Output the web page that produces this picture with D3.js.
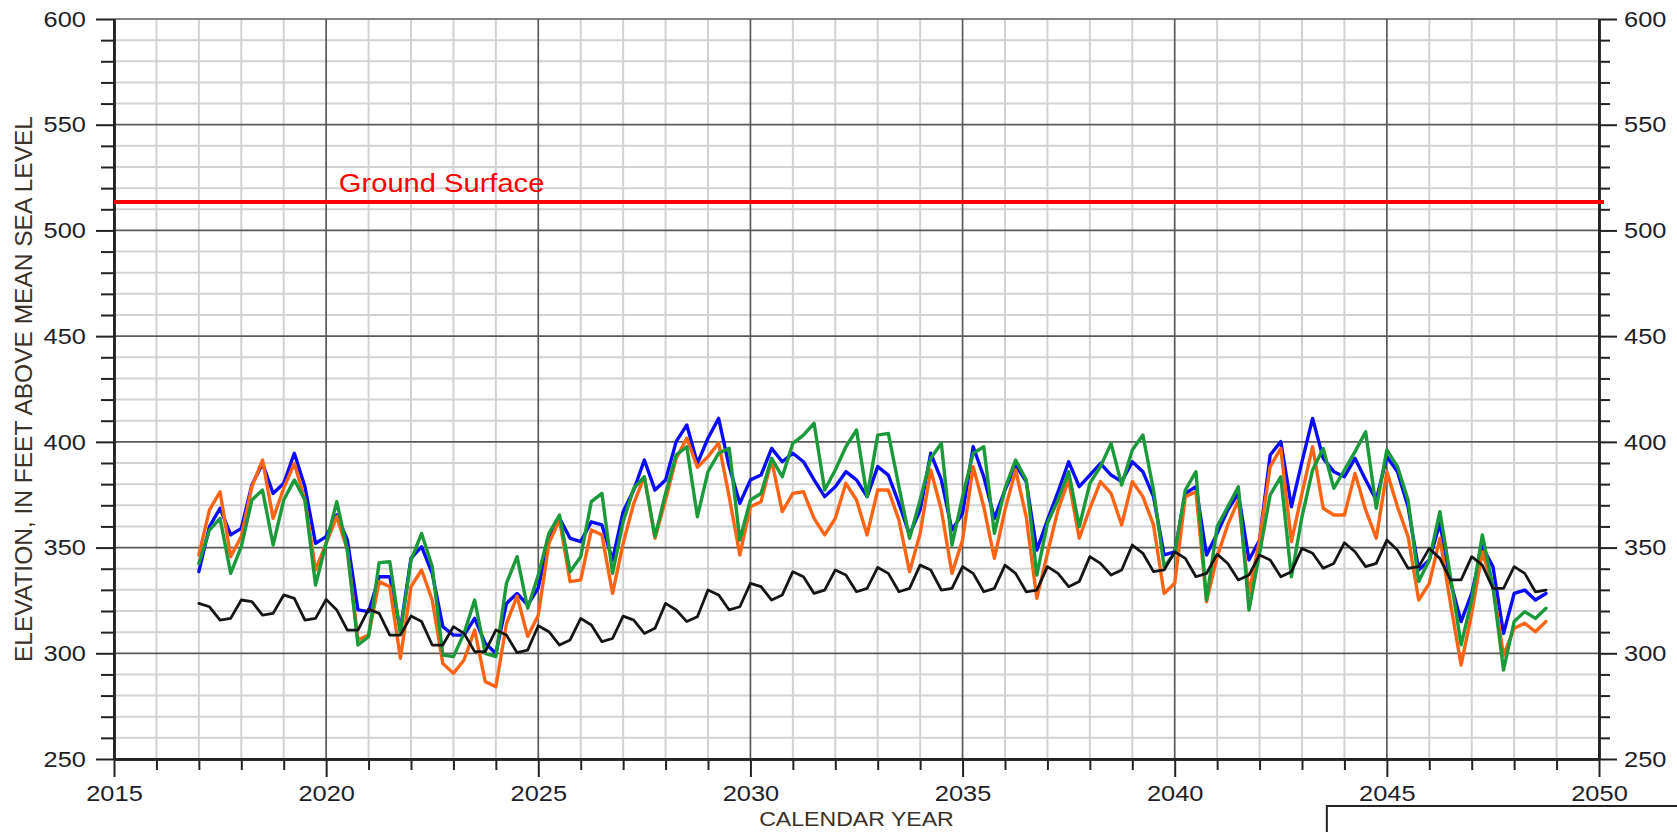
<!DOCTYPE html>
<html>
<head>
<meta charset="utf-8">
<script src="https://cdn.jsdelivr.net/npm/d3@7"></script>
<style>
  html, body { margin: 0; padding: 0; background: #fff; }
  svg { display: block; }
  text { font-family: "Liberation Sans", Arial, Helvetica, sans-serif; }
</style>
</head>
<body>
<svg id="chart" width="1677" height="832"></svg>
<script>
// Quarterly simulated groundwater elevations, 2017.00 through 2048.75
const startYear = 2017;
const stepYears = 0.25;

const blueSeries = [
  338.6, 359.9, 368.6, 356.0,  359.1, 379.6, 389.8, 375.6,
  380.4, 394.6, 378.8, 352.0,  355.2, 365.4, 353.6, 320.5,
  319.7, 336.2, 336.2, 311.0,  344.9, 350.4, 337.8, 312.6,
  308.6, 308.6, 316.5, 304.7,  300.0, 323.6, 328.3, 322.8,
  331.0, 353.6, 363.8, 354.4,  352.8, 362.2, 360.7, 344.1,
  367.0, 377.2, 391.4, 377.2,  382.0, 400.1, 408.0, 389.8,
  401.7, 411.1, 388.3, 370.9,  382.0, 384.3, 396.9, 390.6,
  394.6, 390.6, 382.0, 374.1,  378.8, 385.9, 382.0, 374.1,
  388.3, 384.3, 370.9, 356.0,  367.8, 394.6, 382.0, 358.3,
  366.2, 397.7, 383.5, 363.8,  377.2, 389.0, 381.2, 348.8,
  363.0, 376.4, 390.6, 378.8,  384.3, 389.8, 384.3, 381.2,
  390.6, 385.9, 374.1, 346.5,  348.0, 375.6, 378.8, 346.5,
  356.7, 367.8, 375.6, 344.1,  353.6, 393.8, 400.1, 369.3,
  390.6, 411.1, 392.2, 385.9,  383.5, 392.2, 382.0, 372.5,
  393.0, 385.9, 369.3, 339.4,  344.1, 361.5, 333.9, 315.0,
  328.3, 350.4, 341.0, 309.4,  328.3, 329.9, 325.2, 328.3
];

const orangeSeries = [
  346.5, 367.8, 376.4, 345.7,  355.2, 378.8, 391.4, 363.8,
  378.0, 389.8, 372.5, 339.4,  352.0, 364.6, 348.8, 306.3,
  308.6, 333.9, 331.5, 297.6,  331.5, 339.4, 325.2, 295.2,
  290.5, 296.8, 311.0, 286.6,  284.2, 314.0, 327.0, 308.0,
  318.0, 352.0, 363.0, 333.9,  334.7, 358.3, 356.0, 328.3,
  352.0, 370.9, 383.5, 354.4,  372.5, 392.2, 401.7, 388.0,
  393.0, 399.5, 374.0, 346.5,  369.3, 371.7, 391.4, 367.0,
  375.6, 376.4, 363.8, 356.0,  363.8, 380.4, 372.5, 356.0,
  377.2, 377.2, 363.0, 338.6,  356.7, 386.7, 367.8, 337.8,
  353.6, 388.3, 369.3, 344.9,  367.8, 386.7, 364.6, 326.0,
  347.3, 367.8, 382.0, 354.4,  368.5, 381.2, 375.6, 360.7,
  381.2, 374.1, 360.7, 328.3,  333.1, 374.1, 376.4, 324.4,
  345.7, 360.7, 372.5, 328.3,  353.6, 388.3, 396.9, 352.8,
  375.6, 397.7, 368.6, 365.4,  365.4, 385.1, 367.8, 354.4,
  385.9, 369.3, 355.2, 325.2,  333.1, 354.4, 323.6, 294.4,
  318.9, 348.0, 331.5, 299.0,  311.8, 314.2, 310.2, 315.0
];

const greenSeries = [
  342.5, 358.3, 363.8, 337.8,  350.4, 372.5, 377.2, 351.2,
  372.5, 382.0, 372.5, 332.3,  352.0, 371.7, 348.8, 303.9,
  307.9, 342.9, 343.3, 309.4,  344.1, 356.7, 341.0, 299.2,
  298.4, 309.4, 325.2, 300.0,  298.4, 333.1, 345.7, 321.3,
  337.0, 356.7, 365.4, 338.6,  345.7, 371.7, 375.6, 337.8,
  362.2, 378.0, 383.5, 355.2,  375.6, 393.8, 397.7, 364.6,
  385.9, 394.6, 397.0, 353.6,  372.5, 375.6, 392.2, 383.5,
  399.3, 403.2, 408.8, 377.2,  386.7, 397.7, 405.6, 374.1,
  403.2, 404.0, 378.8, 354.4,  372.5, 392.2, 399.3, 351.2,
  374.1, 394.6, 397.7, 356.7,  378.0, 391.4, 382.0, 337.0,
  361.5, 372.5, 385.9, 359.9,  380.4, 388.3, 399.3, 379.6,
  396.2, 403.2, 377.2, 341.0,  347.3, 377.2, 385.9, 325.2,
  359.9, 369.3, 378.8, 320.5,  347.3, 374.9, 383.5, 336.2,
  364.6, 386.7, 396.9, 378.0,  386.7, 395.4, 404.8, 368.6,
  396.2, 388.3, 372.5, 333.9,  344.1, 367.0, 336.2, 304.0,
  325.2, 356.0, 331.5, 292.1,  315.0, 319.7, 316.5, 321.3
];

const blackSeries = [
  323.6, 322.0, 315.7, 316.5,  325.2, 324.4, 318.1, 318.9,
  327.6, 326.0, 315.7, 316.5,  325.5, 320.5, 311.0, 311.0,
  320.8, 318.9, 308.6, 308.6,  317.6, 315.0, 303.9, 303.9,
  312.6, 309.4, 300.8, 300.8,  311.0, 308.6, 300.3, 301.5,
  313.0, 310.2, 303.9, 306.3,  316.5, 313.4, 305.5, 307.0,
  317.6, 315.7, 309.4, 311.8,  323.6, 320.5, 315.0, 317.3,
  329.9, 327.6, 320.5, 322.0,  333.1, 331.5, 325.2, 327.6,
  338.6, 336.2, 328.3, 329.9,  339.4, 337.0, 329.1, 330.7,
  340.6, 337.8, 329.1, 330.7,  341.7, 339.4, 329.9, 330.7,
  341.0, 337.8, 329.1, 330.7,  341.7, 337.8, 329.1, 329.9,
  341.0, 337.8, 331.5, 333.9,  345.7, 342.5, 337.0, 339.4,
  351.2, 347.3, 338.6, 339.4,  348.0, 344.9, 336.2, 337.8,
  346.9, 342.5, 334.7, 337.0,  346.5, 344.1, 336.2, 338.6,
  349.6, 347.3, 340.2, 342.5,  352.3, 348.0, 341.0, 342.5,
  353.6, 348.8, 340.2, 341.0,  349.6, 344.9, 334.7, 334.7,
  345.7, 341.7, 330.7, 330.7,  341.0, 337.8, 329.1, 329.9
];

const groundSurface = 513.5;
const groundLabel = "Ground Surface";

const xMajorTicks = [2015, 2020, 2025, 2030, 2035, 2040, 2045, 2050];
const yMajorTicks = [250, 300, 350, 400, 450, 500, 550, 600];
const xTitle = "CALENDAR YEAR";
const yTitle = "ELEVATION, IN FEET ABOVE MEAN SEA LEVEL";

const seriesList = [
  { name: "blue", values: blueSeries, color: "#0a0aff", width: 3.4 },
  { name: "orange", values: orangeSeries, color: "#ff6414", width: 3.4 },
  { name: "green", values: greenSeries, color: "#1a9a3a", width: 3.4 },
  { name: "black", values: blackSeries, color: "#151515", width: 2.8 }
];

// ---------- layout ----------
const svg = d3.select("#chart");
const W = 1677, H = 832;
const margin = { left: 114, right: 78, top: 19, bottom: 73 };

const x = d3.scaleLinear().domain([2015, 2050]).range([margin.left, W - margin.right]);
const y = d3.scaleLinear().domain([250, 600]).range([H - margin.bottom, margin.top]);

const xMinor = d3.range(2015, 2051, 1).filter(v => !xMajorTicks.includes(v));
const yMinor = d3.range(250, 601, 10).filter(v => !yMajorTicks.includes(v));

svg.append("rect").attr("width", W).attr("height", H).attr("fill", "#fff");

// ---------- grid ----------
const grid = svg.append("g");
grid.selectAll(".vmin").data(xMinor).join("line")
  .attr("x1", d => x(d)).attr("x2", d => x(d))
  .attr("y1", y(250)).attr("y2", y(600))
  .attr("stroke", "#d2d2d2").attr("stroke-width", 2);
grid.selectAll(".hmin").data(yMinor).join("line")
  .attr("y1", d => y(d)).attr("y2", d => y(d))
  .attr("x1", x(2015)).attr("x2", x(2050))
  .attr("stroke", "#d2d2d2").attr("stroke-width", 2);
grid.selectAll(".vmaj").data(xMajorTicks).join("line")
  .attr("x1", d => x(d)).attr("x2", d => x(d))
  .attr("y1", y(250)).attr("y2", y(600))
  .attr("stroke", "#5a5a5a").attr("stroke-width", 1.7);
grid.selectAll(".hmaj").data(yMajorTicks).join("line")
  .attr("y1", d => y(d)).attr("y2", d => y(d))
  .attr("x1", x(2015)).attr("x2", x(2050))
  .attr("stroke", "#5a5a5a").attr("stroke-width", 1.7);

// ---------- axes ----------
const tickFont = "22.5px";
const tickColor = "#1e1e28";
const tickStretch = 1.13;

// widen glyphs horizontally around each label's own anchor
function stretchText(sel, k) {
  sel.each(function () {
    const tx = +this.getAttribute("x") || 0;
    this.setAttribute("transform", `translate(${tx},0) scale(${k},1) translate(${-tx},0)`);
  });
}

function styleAxis(g) {
  g.select(".domain").attr("stroke", "#222").attr("stroke-width", 2.4);
  g.selectAll(".tick line").attr("stroke", "#222").attr("stroke-width", 2);
  g.selectAll(".tick text").attr("fill", tickColor).style("font-size", tickFont)
    .call(stretchText, tickStretch);
}

// left
svg.append("g").attr("transform", `translate(${x(2015)},0)`)
  .call(d3.axisLeft(y).tickValues(yMinor).tickSize(13).tickFormat("").tickSizeOuter(0))
  .call(styleAxis);
svg.append("g").attr("transform", `translate(${x(2015)},0)`)
  .call(d3.axisLeft(y).tickValues(yMajorTicks).tickSize(18).tickPadding(10).tickSizeOuter(0).tickFormat(d3.format("d")))
  .call(styleAxis);

// right
svg.append("g").attr("transform", `translate(${x(2050)},0)`)
  .call(d3.axisRight(y).tickValues(yMinor).tickSize(11).tickFormat("").tickSizeOuter(0))
  .call(styleAxis);
svg.append("g").attr("transform", `translate(${x(2050)},0)`)
  .call(d3.axisRight(y).tickValues(yMajorTicks).tickSize(18).tickPadding(7).tickSizeOuter(0).tickFormat(d3.format("d")))
  .call(styleAxis);

// bottom
svg.append("g").attr("transform", `translate(0,${y(250)})`)
  .call(d3.axisBottom(x).tickValues(xMinor).tickSize(11).tickFormat("").tickSizeOuter(0))
  .call(styleAxis);
svg.append("g").attr("transform", `translate(0,${y(250)})`)
  .call(d3.axisBottom(x).tickValues(xMajorTicks).tickSize(18).tickPadding(8).tickSizeOuter(0).tickFormat(d3.format("d")))
  .call(styleAxis);

// ---------- ground surface ----------
svg.append("line")
  .attr("x1", x(2015)).attr("x2", x(2050) + 5)
  .attr("y1", y(groundSurface)).attr("y2", y(groundSurface))
  .attr("stroke", "#ff0000").attr("stroke-width", 4);
svg.append("text")
  .attr("x", x(2020.3)).attr("y", y(groundSurface) - 10)
  .attr("fill", "#ff0000").style("font-size", "26px")
  .text(groundLabel)
  .call(stretchText, 1.12);

// ---------- series ----------
const line = d3.line()
  .x((d, i) => x(startYear + i * stepYears))
  .y(d => y(d));

const plot = svg.append("g");
seriesList.forEach(s => {
  plot.append("path")
    .datum(s.values)
    .attr("fill", "none")
    .attr("stroke", s.color)
    .attr("stroke-width", s.width)
    .attr("stroke-linejoin", "round")
    .attr("stroke-linecap", "round")
    .attr("d", line);
});

// ---------- titles ----------
svg.append("text")
  .attr("x", (x(2015) + x(2050)) / 2).attr("y", 826)
  .attr("text-anchor", "middle")
  .attr("fill", "#3a3128").style("font-size", "21px")
  .text(xTitle)
  .call(stretchText, 1.1);

svg.append("text")
  .attr("transform", `translate(32,${(y(250) + y(600)) / 2}) rotate(-90)`)
  .attr("text-anchor", "middle")
  .attr("fill", "#3a3128").style("font-size", "24.5px")
  .text(yTitle);

// ---------- legend frame (lower right) ----------
svg.append("rect")
  .attr("x", x(2045) - 60).attr("y", 806)
  .attr("width", 420).attr("height", 120)
  .attr("fill", "#fff").attr("stroke", "#222").attr("stroke-width", 2);
</script>
</body>
</html>
